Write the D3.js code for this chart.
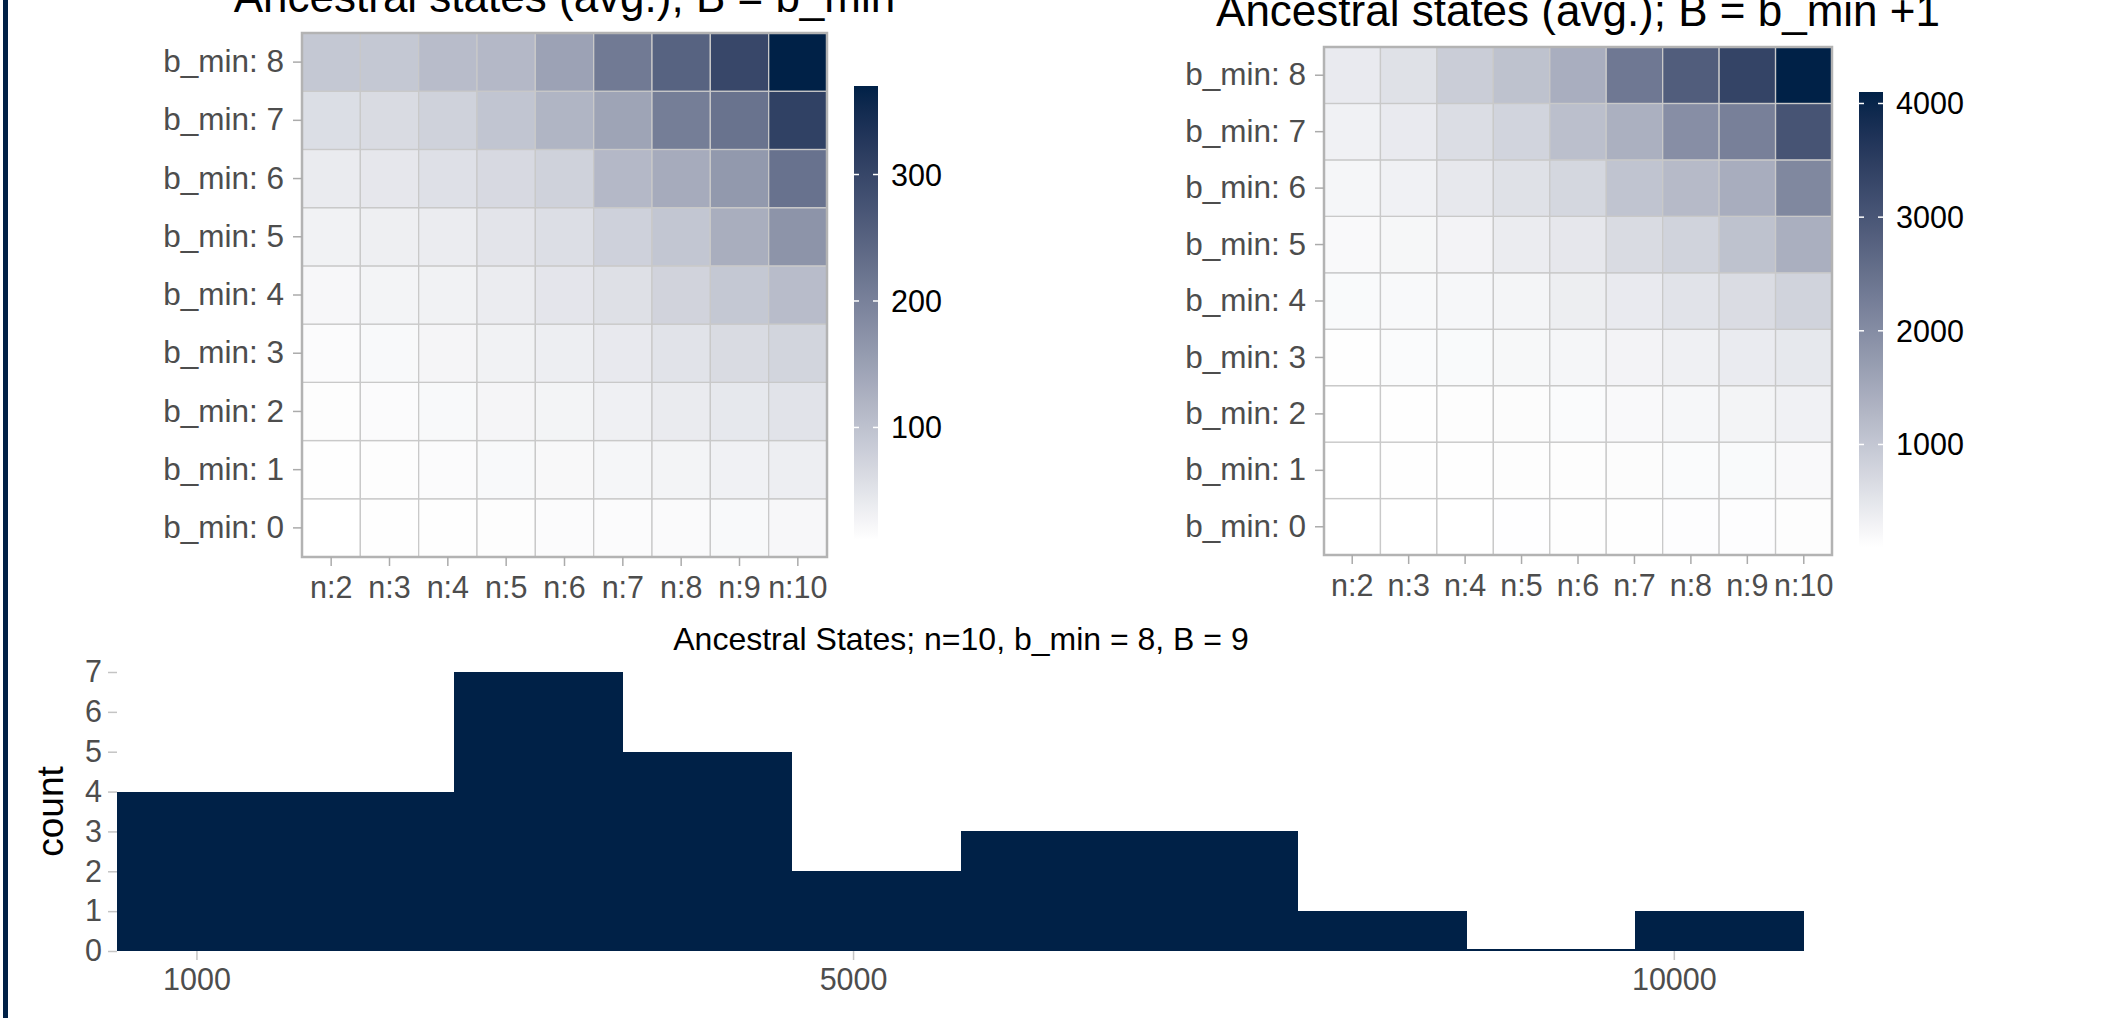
<!DOCTYPE html>
<html>
<head>
<meta charset="utf-8">
<script src="https://cdn.jsdelivr.net/npm/d3@7"></script>
<style>
  body { margin: 0; background: #fff; }
  svg { display: block; font-family: "Liberation Sans", Arial, sans-serif; }
</style>
</head>
<body>
<div id="chart"></div>
<script>
// categories
var nLabels = ["n:2", "n:3", "n:4", "n:5", "n:6", "n:7", "n:8", "n:9", "n:10"];
var bminLabels = ["b_min: 0", "b_min: 1", "b_min: 2", "b_min: 3", "b_min: 4", "b_min: 5", "b_min: 6", "b_min: 7", "b_min: 8"];

// avg ancestral states, B = b_min (rows b_min 0..8, cols n 2..10)
var statesBmin = [
  [11, 12, 12, 14, 16, 17, 18, 20, 22],
  [12, 14, 17, 20, 21, 24, 27, 31, 35],
  [14, 16, 20, 25, 27, 33, 39, 44, 51],
  [17, 20, 25, 30, 35, 42, 51, 63, 72],
  [22, 27, 30, 38, 48, 56, 74, 91, 108],
  [30, 34, 38, 49, 58, 77, 94, 130, 170],
  [39, 45, 55, 65, 76, 114, 134, 162, 224],
  [59, 63, 76, 95, 119, 145, 205, 223, 309],
  [91, 91, 108, 114, 148, 211, 250, 298, 370]
];
var ticksBmin = [100, 200, 300];

// avg ancestral states, B = b_min + 1
var statesBmin1 = [
  [98, 100, 104, 108, 112, 116, 122, 128, 135],
  [98, 118, 118, 130, 130, 150, 166, 182, 194],
  [98, 118, 130, 150, 166, 194, 226, 274, 322],
  [118, 166, 182, 210, 242, 282, 338, 410, 466],
  [182, 198, 226, 262, 370, 430, 542, 658, 807],
  [194, 230, 282, 398, 478, 678, 811, 1087, 1403],
  [242, 322, 462, 582, 743, 1051, 1215, 1435, 2084],
  [322, 430, 639, 791, 1131, 1383, 1971, 2220, 3044],
  [430, 575, 903, 1087, 1415, 2364, 2860, 3361, 4101]
];
var ticksBmin1 = [1000, 2000, 3000, 4000];

// histogram n=10, b_min=8, B=9
var histEdges = [516, 1544, 2571, 3599, 4627, 5655, 6682, 7710, 8738, 9765, 10793];
var histCounts = [4, 4, 7, 5, 2, 3, 3, 1, 0, 1];
var histXTicks = [1000, 5000, 10000];
var histYTicks = [0, 1, 2, 3, 4, 5, 6, 7];

var navy = "#002147";
var axisGrey = "#4d4d4d";

var svg = d3.select("#chart").append("svg")
    .attr("width", 2115)
    .attr("height", 1018);

svg.append("rect")
    .attr("x", 3).attr("y", 0)
    .attr("width", 5).attr("height", 1018)
    .attr("fill", navy);

var defs = svg.append("defs");

function heatmap(values, ticks, title, box, id) {
    var g = svg.append("g");
    var flat = [];
    values.forEach(function(row, i) {
        row.forEach(function(v, j) {
            flat.push({ b: bminLabels[i], n: nLabels[j], v: v });
        });
    });
    var ext = d3.extent(flat, function(d) { return d.v; });

    var x = d3.scaleBand().domain(nLabels).range([box.x0, box.x1]);
    var y = d3.scaleBand().domain(bminLabels).range([box.y1, box.y0]);
    var color = d3.scaleLinear().domain(ext)
        .range(["#ffffff", navy])
        .interpolate(d3.interpolateLab);

    g.selectAll("rect.tile")
        .data(flat)
        .enter().append("rect")
        .attr("class", "tile")
        .attr("x", function(d) { return x(d.n); })
        .attr("y", function(d) { return y(d.b); })
        .attr("width", x.bandwidth())
        .attr("height", y.bandwidth())
        .attr("fill", function(d) { return color(d.v); })
        .attr("stroke", "#c9c9c9")
        .attr("stroke-width", 1.3);

    g.append("rect")
        .attr("x", box.x0).attr("y", box.y0)
        .attr("width", box.x1 - box.x0).attr("height", box.y1 - box.y0)
        .attr("fill", "none")
        .attr("stroke", "#b3b3b3")
        .attr("stroke-width", 2.5);

    // axes
    var ya = g.append("g")
        .attr("transform", "translate(" + box.x0 + ",0)")
        .call(d3.axisLeft(y).tickSize(9).tickPadding(9));
    var xa = g.append("g")
        .attr("transform", "translate(0," + box.y1 + ")")
        .call(d3.axisBottom(x).tickSize(9).tickPadding(10));
    [ya, xa].forEach(function(a, k) {
        a.select(".domain").remove();
        a.selectAll(".tick line").attr("stroke", "#ababab").attr("stroke-width", 1.5);
        a.selectAll(".tick text")
            .attr("fill", axisGrey)
            .style("font-size", k === 0 ? "31.5px" : "30.5px")
            .style("font-family", "Liberation Sans, Arial, sans-serif");
    });

    g.append("text")
        .attr("x", (box.x0 + box.x1) / 2)
        .attr("y", box.y0 - 21)
        .attr("text-anchor", "middle")
        .style("font-size", "44px")
        .attr("fill", "#000")
        .text(title);

    // colour bar
    var grad = defs.append("linearGradient")
        .attr("id", id)
        .attr("x1", 0).attr("y1", 1).attr("x2", 0).attr("y2", 0);
    d3.range(0, 1.0001, 0.05).forEach(function(t) {
        grad.append("stop")
            .attr("offset", t)
            .attr("stop-color", color(ext[0] + t * (ext[1] - ext[0])));
    });
    var b = box.bar;
    g.append("rect")
        .attr("x", b.x).attr("y", b.y0)
        .attr("width", b.w).attr("height", b.y1 - b.y0)
        .attr("fill", "url(#" + id + ")");
    var ly = d3.scaleLinear().domain(ext).range([b.y1, b.y0]);
    var lg = g.append("g");
    ticks.forEach(function(t) {
        lg.append("line")
            .attr("x1", b.x).attr("x2", b.x + 5)
            .attr("y1", ly(t)).attr("y2", ly(t))
            .attr("stroke", "#fff").attr("stroke-width", 1.5);
        lg.append("line")
            .attr("x1", b.x + b.w - 5).attr("x2", b.x + b.w)
            .attr("y1", ly(t)).attr("y2", ly(t))
            .attr("stroke", "#fff").attr("stroke-width", 1.5);
        lg.append("text")
            .attr("x", b.x + b.w + 13)
            .attr("y", ly(t))
            .attr("dy", "0.36em")
            .style("font-size", "30.5px")
            .attr("fill", "#000")
            .text(t);
    });
}

heatmap(statesBmin, ticksBmin, "Ancestral states (avg.); B = b_min",
    { x0: 302, x1: 827, y0: 33, y1: 557, bar: { x: 854, w: 24, y0: 86, y1: 540 } }, "gradA");
heatmap(statesBmin1, ticksBmin1, "Ancestral states (avg.); B = b_min +1",
    { x0: 1324, x1: 1832, y0: 47, y1: 555, bar: { x: 1859, w: 24, y0: 92, y1: 547 } }, "gradB");

// histogram
var hx = d3.scaleLinear().domain([histEdges[0], histEdges[histEdges.length - 1]]).range([117, 1804]);
var hy = d3.scaleLinear().domain([0, 7]).range([951, 672]);
var hg = svg.append("g");

var bins = histCounts.map(function(c, i) {
    return { x0: histEdges[i], x1: histEdges[i + 1], count: c };
});
// empty bins still show a hairline at the baseline, as in the original
hg.selectAll("rect.bar")
    .data(bins)
    .enter().append("rect")
    .attr("class", "bar")
    .attr("x", function(d) { return Math.round(hx(d.x0)); })
    .attr("width", function(d) { return Math.round(hx(d.x1)) - Math.round(hx(d.x0)); })
    .attr("y", function(d) { return Math.round(Math.min(hy(d.count), hy(0) - 2)); })
    .attr("height", function(d) { return Math.round(hy(0)) - Math.round(Math.min(hy(d.count), hy(0) - 2)); })
    .attr("fill", navy)
    .attr("shape-rendering", "crispEdges");

var hya = hg.append("g")
    .attr("transform", "translate(117,0)")
    .call(d3.axisLeft(hy).tickValues(histYTicks).tickSize(9).tickPadding(6).tickFormat(d3.format("d")));
var hxa = hg.append("g")
    .attr("transform", "translate(0,951)")
    .call(d3.axisBottom(hx).tickValues(histXTicks).tickSize(9).tickPadding(8).tickFormat(d3.format("d")));
[hya, hxa].forEach(function(a) {
    a.select(".domain").remove();
    a.selectAll(".tick line").attr("stroke", "#c4c4c4").attr("stroke-width", 1.5);
    a.selectAll(".tick text")
        .attr("fill", axisGrey)
        .style("font-size", "30.5px")
        .style("font-family", "Liberation Sans, Arial, sans-serif");
});

hg.append("text")
    .attr("transform", "translate(63,811.5) rotate(-90)")
    .attr("text-anchor", "middle")
    .style("font-size", "37px")
    .attr("fill", "#000")
    .text("count");

hg.append("text")
    .attr("x", 961)
    .attr("y", 650)
    .attr("text-anchor", "middle")
    .style("font-size", "32px")
    .attr("fill", "#000")
    .text("Ancestral States; n=10, b_min = 8, B = 9");
</script>
</body>
</html>
